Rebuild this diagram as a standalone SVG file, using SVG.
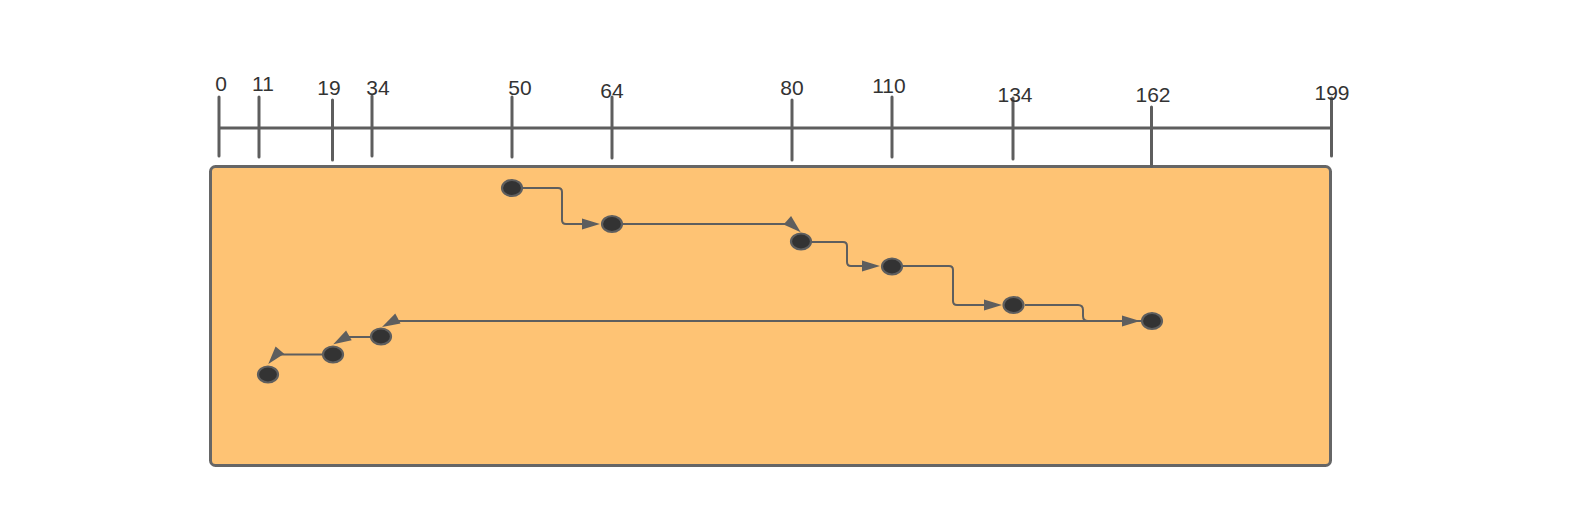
<svg xmlns="http://www.w3.org/2000/svg" xmlns:xlink="http://www.w3.org/1999/xlink" width="1583" height="510" viewBox="0 0 1583 510">
  <style>
    .axis { stroke: #5e5e5e; stroke-width: 3; fill: none; stroke-linecap: round; }
    .lbl { font-family: "Liberation Sans", Arial, sans-serif; font-size: 21px; fill: #333333; text-anchor: middle; }
    .box { fill: #fec374; stroke: #666666; stroke-width: 3; }
    .node { fill: #333333; stroke: #5e5e5e; stroke-width: 2.2; }
    .conn { stroke: #5e5e5e; stroke-width: 2; fill: none; }
    .ah { fill: #5e5e5e; }
  </style>
  <defs>
    <path id="arrow" d="M0,0 L-18,-5.6 L-18,5.6 Z"/>
  </defs>
  <rect width="1583" height="510" fill="#ffffff"/>

  <g id="container">
    <rect class="box" x="210.5" y="166.5" width="1120" height="299" rx="5"/>
  </g>

  <g id="timeline">
    <line class="axis" x1="220" y1="128" x2="1331" y2="128"/>
    <line class="axis" x1="219" y1="97" x2="219" y2="156"/>
    <line class="axis" x1="259" y1="97" x2="259" y2="157"/>
    <line class="axis" x1="332.5" y1="100" x2="332.5" y2="160"/>
    <line class="axis" x1="372" y1="96" x2="372" y2="156"/>
    <line class="axis" x1="512" y1="97" x2="512" y2="157"/>
    <line class="axis" x1="612" y1="97" x2="612" y2="158"/>
    <line class="axis" x1="792" y1="100" x2="792" y2="160"/>
    <line class="axis" x1="892" y1="97" x2="892" y2="157"/>
    <line class="axis" x1="1013" y1="98" x2="1013" y2="159"/>
    <line class="axis" x1="1151.5" y1="107" x2="1151.5" y2="166"/>
    <line class="axis" x1="1331.5" y1="98" x2="1331.5" y2="156"/>
    <text class="lbl" x="221" y="91">0</text>
    <text class="lbl" x="263" y="91">11</text>
    <text class="lbl" x="329" y="95">19</text>
    <text class="lbl" x="378" y="95">34</text>
    <text class="lbl" x="520" y="95">50</text>
    <text class="lbl" x="612" y="98">64</text>
    <text class="lbl" x="792" y="95">80</text>
    <text class="lbl" x="889" y="93">110</text>
    <text class="lbl" x="1015" y="102">134</text>
    <text class="lbl" x="1153" y="102">162</text>
    <text class="lbl" x="1332" y="100">199</text>
  </g>

  <g id="connectors">
    <path class="conn" d="M523,188 H558 Q562,188 562,192 V220 Q562,224 566,224 H584"/>
    <use xlink:href="#arrow" class="ah" transform="translate(600,224)"/>
    <path class="conn" d="M623,224 H790"/>
    <use xlink:href="#arrow" class="ah" transform="translate(800.7,232.3) rotate(42)"/>
    <path class="conn" d="M812,242 H843 Q847,242 847,246 V262 Q847,266 851,266 H864"/>
    <use xlink:href="#arrow" class="ah" transform="translate(880,266)"/>
    <path class="conn" d="M903,266 H949 Q953,266 953,270 V301 Q953,305 957,305 H986"/>
    <use xlink:href="#arrow" class="ah" transform="translate(1002,305)"/>
    <path class="conn" d="M1025,305 H1078 Q1083,305 1083,310 V316 Q1083,321 1088,321 H1124"/>
    <use xlink:href="#arrow" class="ah" transform="translate(1140,321)"/>
    <path class="conn" d="M1141,321 H396"/>
    <use xlink:href="#arrow" class="ah" transform="translate(382,327) rotate(152)"/>
    <path class="conn" d="M370,337 H348"/>
    <use xlink:href="#arrow" class="ah" transform="translate(333.3,344.3) rotate(150)"/>
    <path class="conn" d="M322,354.5 H280"/>
    <use xlink:href="#arrow" class="ah" transform="translate(268.3,364) rotate(130)"/>
  </g>

  <g id="node-50"><ellipse class="node" cx="512" cy="188" rx="10" ry="8"/></g>
  <g id="node-64"><ellipse class="node" cx="612" cy="224" rx="10" ry="8"/></g>
  <g id="node-80"><ellipse class="node" cx="801" cy="241.5" rx="10" ry="8"/></g>
  <g id="node-110"><ellipse class="node" cx="892" cy="266.5" rx="10" ry="8"/></g>
  <g id="node-134"><ellipse class="node" cx="1013.5" cy="305" rx="10" ry="8"/></g>
  <g id="node-162"><ellipse class="node" cx="1152" cy="321" rx="10" ry="8"/></g>
  <g id="node-34"><ellipse class="node" cx="381" cy="336.5" rx="10" ry="8"/></g>
  <g id="node-19"><ellipse class="node" cx="333" cy="354.5" rx="10" ry="8"/></g>
  <g id="node-11"><ellipse class="node" cx="268" cy="374.5" rx="10" ry="8"/></g>
</svg>
